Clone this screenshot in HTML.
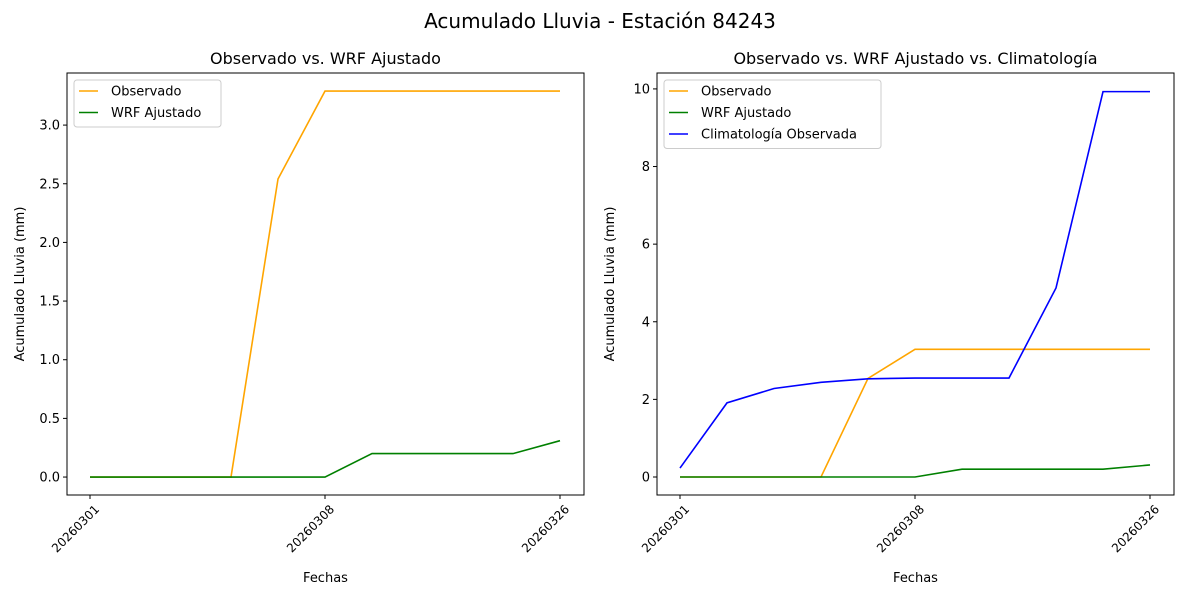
<!DOCTYPE html>
<html><head><meta charset="utf-8"><style>
body{margin:0;background:#fff}
svg text{font-family:"DejaVu Sans","Liberation Sans",sans-serif;fill:#000}
</style></head><body>
<svg id="c" width="1200" height="600" xmlns="http://www.w3.org/2000/svg"></svg>
<script>
const dates=["20260301","20260302","20260303","20260304","20260305","20260308","20260310","20260315","20260320","20260322","20260326"];
const tickIdx=[0,5,10];
const observado=[0,0,0,0,2.54,3.29,3.29,3.29,3.29,3.29,3.29];
const wrf=[0,0,0,0,0,0,0.2,0.2,0.2,0.2,0.31];
const clima=[0.23,1.91,2.28,2.44,2.53,2.55,2.55,2.55,4.87,9.93,9.93];
const leftTicks=[0,0.5,1.0,1.5,2.0,2.5,3.0];
const rightTicks=[0,2,4,6,8,10];
const NS="http://www.w3.org/2000/svg";
const svg=document.getElementById('c');
function el(t,a,p){const e=document.createElementNS(NS,t);for(const k in a)e.setAttribute(k,a[k]);(p||svg).appendChild(e);return e;}
function txt(s,a,p){const e=el('text',a,p);e.textContent=s;return e;}
const title=txt("Acumulado Lluvia - Estación 84243",{x:600,y:28,"text-anchor":"middle","font-size":20});


function panel(name,L,R,T,B,ymin,ymax,yticks,fmt,series,ttl){
  const g=el('g',{});
  
  
  const x0=L+23,x1=R-24;
  const xs=i=>x0+(x1-x0)*i/(dates.length-1);
  const ys=v=>B-(v-ymin)/(ymax-ymin)*(B-T);
  yticks.forEach(v=>{const y=ys(v);
    el('line',{x1:L-4,x2:L,y1:y,y2:y,stroke:"#000"},g);
    const t=txt(fmt(v),{x:L-7,y:y+4.5,"text-anchor":"end","font-size":13},g);
    
    });
  tickIdx.forEach(i=>{const x=xs(i);
    el('line',{x1:x,x2:x,y1:B,y2:B+4,stroke:"#000"},g);
    const t=txt(dates[i],{x:0,y:0,"text-anchor":"end","font-size":12,transform:`translate(${x+10},${B+15}) rotate(-45)`},g);
    
    });
  series.forEach(s=>{
    const p=el('polyline',{points:s.d.map((v,i)=>xs(i)+","+ys(v)).join(" "),fill:"none",stroke:s.c,"stroke-width":1.6},g);
    
    });
  el('rect',{x:L,y:T,width:R-L,height:B-T,fill:"none",stroke:"#000","stroke-width":1},g);
  const tt=txt(ttl,{x:(L+R)/2,y:T-9,"text-anchor":"middle","font-size":16},g);
  
  
  const xl=txt("Fechas",{x:(L+R)/2,y:582,"text-anchor":"middle","font-size":13},g);
  
  
  const yl=txt("Acumulado Lluvia (mm)",{x:0,y:0,"text-anchor":"middle","font-size":13,transform:`translate(${L-43},${(T+B)/2}) rotate(-90)`},g);
  
  
  const lg=el('g',{},g);
  
  
  const w=series.length===3?217:147;
  el('rect',{x:L+7,y:T+7,width:w,height:series.length*21.5+4,rx:3,fill:"#fff",stroke:"#ccc"},lg);
  series.forEach((s,k)=>{const y=T+18+k*21.5;
    el('line',{x1:L+12,x2:L+31,y1:y,y2:y,stroke:s.c,"stroke-width":1.6},lg);
    const t=txt(s.label,{x:L+44,y:y+4.5,"font-size":13},lg);
    
    });
}
panel('left-panel',67,584,73,495,-0.153,3.444,leftTicks,v=>v.toFixed(1),
 [{d:observado,c:"orange",n:"observado-line",label:"Observado"},{d:wrf,c:"green",n:"wrf-line",label:"WRF Ajustado"}],"Observado vs. WRF Ajustado");
panel('right-panel',657,1174,73,495,-0.464,10.41,rightTicks,v=>String(v),
 [{d:observado,c:"orange",n:"observado-line",label:"Observado"},{d:wrf,c:"green",n:"wrf-line",label:"WRF Ajustado"},{d:clima,c:"blue",n:"climatologia-line",label:"Climatología Observada"}],"Observado vs. WRF Ajustado vs. Climatología");
</script>
</body></html>
